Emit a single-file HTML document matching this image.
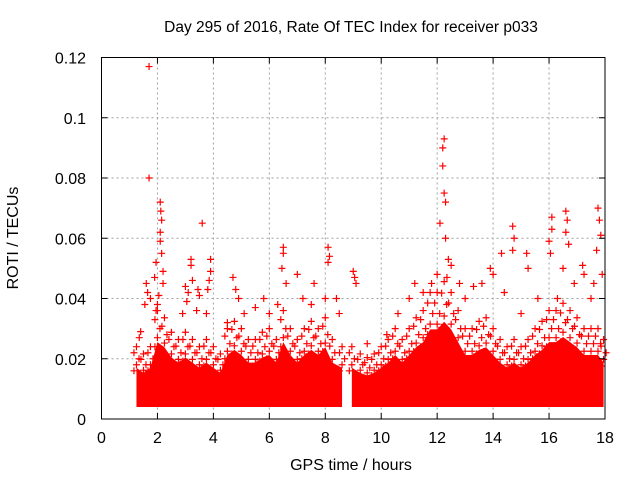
<!DOCTYPE html>
<html><head><meta charset="utf-8"><style>
html,body{margin:0;padding:0;background:#fff;}
svg{display:block;font-family:"Liberation Sans",sans-serif;}
</style></head><body>
<svg id="chart" width="640" height="480" viewBox="0 0 640 480" xmlns="http://www.w3.org/2000/svg">
<text x="351" y="32" font-size="15.5" text-anchor="middle" fill="#000">Day 295 of 2016, Rate Of TEC Index for receiver p033</text>
<text x="351" y="470" font-size="16" text-anchor="middle" fill="#000">GPS time / hours</text>
<text transform="translate(18,238) rotate(-90)" font-size="16" text-anchor="middle" fill="#000">ROTI / TECUs</text>
<g id="grid"></g>
<g id="band"></g>
<g id="pts"></g>
<g id="axes"></g>
</svg>
<script>
const xTicks=[0,2,4,6,8,10,12,14,16,18];
const yTicks=[0,0.02,0.04,0.06,0.08,0.1,0.12];
const yTickLabels=["0","0.02","0.04","0.06","0.08","0.1","0.12"];
const bandSeg1T=[1.25,1.5,1.75,2.0,2.25,2.5,2.75,3.0,3.25,3.5,3.75,4.0,4.25,4.5,4.75,5.0,5.25,5.5,5.75,6.0,6.25,6.5,6.75,7.0,7.25,7.5,7.75,8.0,8.25,8.6];
const bandSeg1High=[0.02,0.018,0.02,0.03,0.028,0.024,0.022,0.024,0.022,0.02,0.022,0.02,0.018,0.025,0.027,0.025,0.022,0.022,0.024,0.025,0.022,0.03,0.025,0.022,0.025,0.027,0.025,0.028,0.022,0.02];
const bandSeg2T=[8.95,9.25,9.5,9.75,10.0,10.25,10.5,10.75,11.0,11.25,11.5,11.75,12.0,12.25,12.5,12.75,13.0,13.25,13.5,13.75,14.0,14.25,14.5,14.75,15.0,15.25,15.5,15.75,16.0,16.25,16.5,16.75,17.0,17.25,17.5,17.75,17.95];
const bandSeg2High=[0.02,0.018,0.017,0.018,0.02,0.022,0.025,0.022,0.025,0.028,0.03,0.035,0.035,0.038,0.035,0.03,0.025,0.025,0.027,0.028,0.025,0.022,0.02,0.022,0.02,0.022,0.025,0.027,0.03,0.03,0.032,0.03,0.028,0.025,0.025,0.025,0.022];
const bandLow=0.004;
const ptT=[1.7,1.7,1.6,1.65,1.75,1.55,1.9,1.95,2.0,1.95,2.1,2.12,2.15,2.1,2.1,2.15,2.2,2.2,2.05,1.4,1.35,3.0,3.2,3.2,3.25,3.1,3.05,2.9,3.5,3.45,3.6,3.9,3.9,3.85,3.8,3.75,3.4,4.5,4.7,4.8,4.9,5.1,5.5,5.8,6.0,6.5,6.5,6.45,6.6,6.3,7.0,7.2,7.6,7.5,8.1,8.15,8.1,8.0,8.4,8.5,9.0,9.05,9.1,9.5,10.2,10.6,11.0,11.2,11.5,11.8,12.0,12.1,12.2,12.25,12.2,12.25,12.3,12.3,12.4,12.5,12.35,12.8,13.0,13.3,13.6,13.9,14.0,14.3,14.4,14.7,14.75,14.7,15.2,15.25,15.0,15.6,16.0,16.1,16.1,16.05,16.3,16.6,16.65,16.6,16.7,16.5,16.9,17.2,17.25,17.5,17.7,17.75,17.8,17.85,17.9,17.6];
const ptV=[0.117,0.080,0.045,0.042,0.04,0.038,0.047,0.052,0.038,0.036,0.072,0.069,0.066,0.062,0.059,0.055,0.049,0.045,0.041,0.029,0.027,0.044,0.053,0.051,0.046,0.042,0.039,0.035,0.041,0.043,0.065,0.053,0.049,0.046,0.043,0.035,0.036,0.032,0.047,0.043,0.04,0.035,0.037,0.04,0.035,0.057,0.055,0.05,0.045,0.038,0.048,0.04,0.045,0.038,0.057,0.054,0.052,0.04,0.04,0.035,0.049,0.047,0.045,0.025,0.028,0.035,0.04,0.045,0.042,0.045,0.048,0.065,0.09,0.093,0.084,0.075,0.072,0.06,0.053,0.051,0.047,0.045,0.04,0.044,0.045,0.05,0.048,0.055,0.042,0.064,0.06,0.056,0.055,0.05,0.035,0.04,0.059,0.067,0.063,0.055,0.04,0.069,0.066,0.062,0.058,0.05,0.045,0.051,0.048,0.04,0.056,0.07,0.066,0.061,0.048,0.045];
const X0=101.5,X1=605,Y0=419,Y1=57.5;
const sx=t=>X0+(t-0)/(18-0)*(X1-X0);
const sy=v=>Y0-(v-0)/(0.12-0)*(Y0-Y1);
const NS="http://www.w3.org/2000/svg";
function mk(tag,attrs,parent){const e=document.createElementNS(NS,tag);for(const k in attrs)e.setAttribute(k,attrs[k]);parent.appendChild(e);return e;}
const grid=document.getElementById('grid'),axes=document.getElementById('axes'),band=document.getElementById('band'),pts=document.getElementById('pts');
xTicks.forEach((t,i)=>{
  const x=sx(t);
  if(i>0&&i<xTicks.length-1){const g=mk('line',{x1:x,x2:x,y1:Y1,y2:Y0,stroke:'#a0a0a0','stroke-dasharray':'2,3'},grid);}
  const l=mk('text',{x:x,y:443,'font-size':16,'text-anchor':'middle',fill:'#000'},axes);l.textContent=t;
  
  mk('line',{x1:x,x2:x,y1:Y0,y2:Y0-6,stroke:'#000'},axes);mk('line',{x1:x,x2:x,y1:Y1,y2:Y1+6,stroke:'#000'},axes);
});
yTicks.forEach((v,i)=>{
  const y=sy(v);
  if(i>0&&i<yTicks.length-1){const g=mk('line',{x1:X0,x2:X1,y1:y,y2:y,stroke:'#a0a0a0','stroke-dasharray':'2,3'},grid);}
  const l=mk('text',{x:86,y:y+6,'font-size':16,'text-anchor':'end',fill:'#000'},axes);l.textContent=yTickLabels[i];
  
  mk('line',{x1:X0,x2:X0+6,y1:y,y2:y,stroke:'#000'},axes);mk('line',{x1:X1,x2:X1-6,y1:y,y2:y,stroke:'#000'},axes);
});
const frame=mk('rect',{x:X0,y:Y1,width:X1-X0,height:Y0-Y1,fill:'none',stroke:'#000'},axes);

function drawBand(T,H){
  let d='M'+sx(T[0])+','+sy(bandLow);
  T.forEach((t,i)=>{d+=' L'+sx(t)+','+sy(H[i]*0.85);});
  d+=' L'+sx(T[T.length-1])+','+sy(bandLow)+' Z';
  const p=mk('path',{d:d,fill:'#ff0000'},band);
  
  T.forEach((t,i)=>{for(let k=0;k<5;k++){const v=H[i]*(0.8+0.1*k);const x=sx(t+((k%3)-1)*0.09),y=sy(v);
    const m=mk('path',{d:`M${x-3.5},${y}h7M${x},${y-3.5}v7`,stroke:'#ff0000','stroke-width':1.2},band);
    }});
}
drawBand(bandSeg1T,bandSeg1High);
drawBand(bandSeg2T,bandSeg2High);
ptT.forEach((t,i)=>{
  const x=sx(t),y=sy(ptV[i]);
  const m=mk('path',{d:`M${x-3.5},${y}h7M${x},${y-3.5}v7`,stroke:'#ff0000','stroke-width':1.2},pts);
  
  
});
</script>
</body></html>
